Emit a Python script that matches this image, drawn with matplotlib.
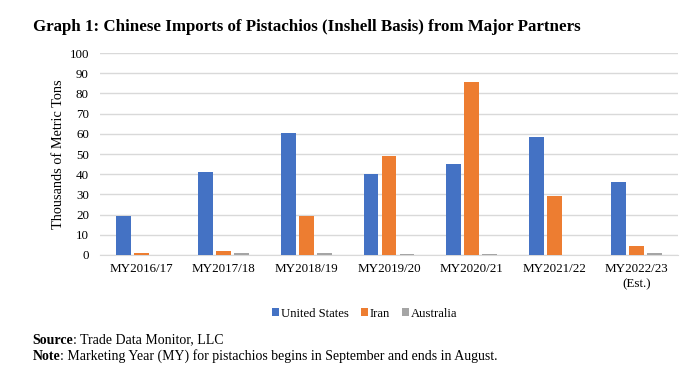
import matplotlib.pyplot as plt
import numpy as np

plt.rcParams['font.family'] = ['Liberation Serif', 'DejaVu Serif']

# marketing years and imports (thousand metric tons)
years = ['MY2016/17', 'MY2017/18', 'MY2018/19', 'MY2019/20',
         'MY2020/21', 'MY2021/22', 'MY2022/23\n(Est.)']
united_states = [19.5, 41.2, 60.3, 40.1, 44.9, 58.6, 36.3]
iran = [1.0, 2.0, 19.3, 49.0, 85.8, 29.2, 4.4]
australia = [0.0, 1.0, 1.0, 0.3, 0.3, 0.2, 1.2]

series = [('United States', united_states, '#4472C4'),
          ('Iran', iran, '#ED7D31'),
          ('Australia', australia, '#A5A5A5')]

fig = plt.figure(figsize=(6.96, 3.66), dpi=100)
ax = fig.add_axes([0.1437, 0.3033, 0.8305, 0.5517])

x = np.arange(len(years))
width = 0.18
step = 0.218
for i, (name, vals, color) in enumerate(series):
    ax.bar(x + (i - 1) * step, vals, width, color=color, label=name, zorder=3)

ax.set_xlim(-0.5, len(years) - 0.5)
ax.set_ylim(0, 100)
ax.set_yticks(range(0, 101, 10))
ax.set_xticks(x)
ax.set_xticklabels(years, fontsize=9.4, linespacing=1.35)
ax.tick_params(axis='y', labelsize=9.4, length=0, pad=8)
ax.tick_params(axis='x', length=0, pad=6)
ax.grid(axis='y', color='#d9d9d9', lw=1, zorder=0)
for s in ['top', 'right', 'left']:
    ax.spines[s].set_visible(False)
ax.spines['bottom'].set_color('#d9d9d9')
ax.set_ylabel('Thousands of Metric Tons', fontsize=10.3, labelpad=3)

ax.legend(loc='upper center', bbox_to_anchor=(0.458, -0.205), ncol=3, frameon=False,
          fontsize=9.1, handlelength=0.55, handleheight=0.55, handletextpad=0.2,
          columnspacing=0.9)

fig.text(0.047, 0.925, 'Graph 1: Chinese Imports of Pistachios (Inshell Basis) from Major Partners',
         fontsize=12.2, fontweight='bold', va='center')

# footer lines: bold lead word followed by regular text
renderer = fig.canvas.get_renderer()
for lead, rest, yy in [('Source', ': Trade Data Monitor, LLC', 0.071),
                       ('Note', ': Marketing Year (MY) for pistachios begins in September and ends in August.', 0.027)]:
    t = fig.text(0.047, yy, lead, fontsize=10, fontweight='bold', va='center')
    bb = t.get_window_extent(renderer)
    fig.text(bb.x1 / fig.bbox.width, yy, rest, fontsize=10, va='center')

fig.savefig('out.png', dpi=100)
